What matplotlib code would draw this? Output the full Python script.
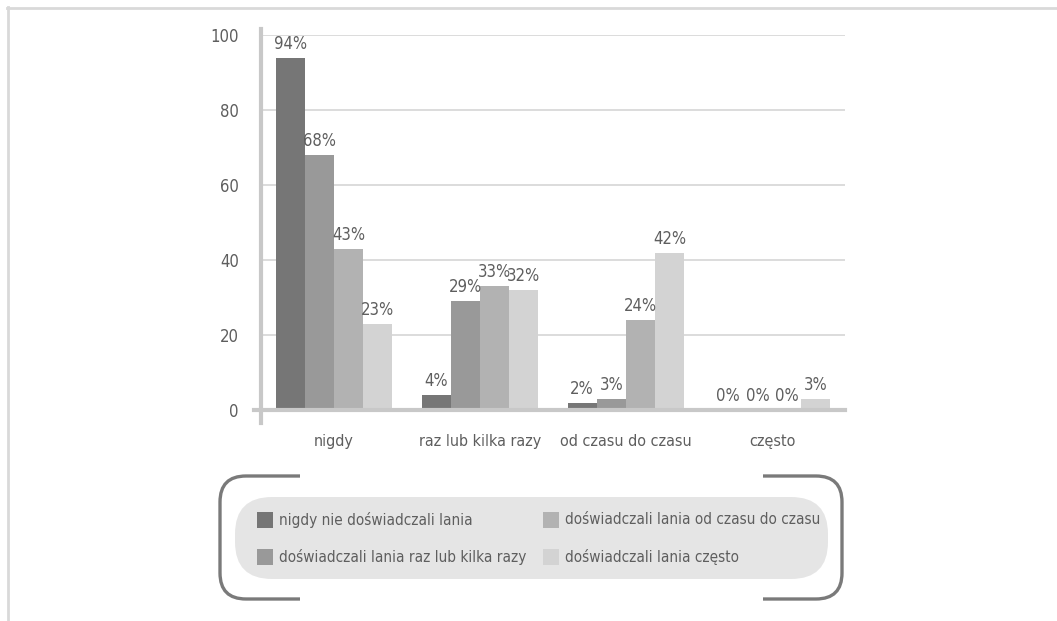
import matplotlib
matplotlib.use("Agg")
import matplotlib.pyplot as plt
from matplotlib.patches import FancyBboxPatch, Rectangle, PathPatch
from matplotlib.path import Path
from matplotlib.lines import Line2D
import numpy as np

plt.rcParams['font.family'] = ['DejaVu Sans']
plt.rcParams['font.stretch'] = 'condensed'

categories = ["nigdy", "raz lub kilka razy", "od czasu do czasu", "często"]
series_names = [
    "nigdy nie doświadczali lania",
    "doświadczali lania raz lub kilka razy",
    "doświadczali lania od czasu do czasu",
    "doświadczali lania często",
]
values = [
    [94, 4, 2, 0],
    [68, 29, 3, 0],
    [43, 33, 24, 0],
    [23, 32, 42, 3],
]
colors = ["#767676", "#999999", "#b2b2b2", "#d3d3d3"]
yticks = [0, 20, 40, 60, 80, 100]

TEXT = "#5e5e5e"
W, H = 1057, 621
fig = plt.figure(figsize=(W / 100, H / 100), dpi=100)

def fx(px):
    return px / W

def fy(py):
    return 1 - py / H

# outer frame lines (top and left)
fig.add_artist(Line2D([fx(7), 1], [fy(7.5), fy(7.5)], color="#d9d9d9", lw=2))
fig.add_artist(Line2D([fx(7.5), fx(7.5)], [fy(7), 0], color="#d9d9d9", lw=2))

ax = fig.add_axes([fx(261), fy(410), fx(845) - fx(261), fy(35) - fy(410)])
x = np.arange(len(categories))
bw = 0.2
offsets = [-0.3, -0.1, 0.1, 0.3]
for vals, col, off in zip(values, colors, offsets):
    bars = ax.bar(x + off, vals, width=bw, color=col, zorder=3)
    for b, v in zip(bars, vals):
        ax.annotate(f"{v}%", (b.get_x() + b.get_width() / 2, v),
                    xytext=(0, 3.5), textcoords="offset points",
                    ha="center", va="bottom", fontsize=12, color=TEXT, zorder=4)

ax.set_xlim(-0.5, 3.5)
ax.set_ylim(0, 100)
ax.set_yticks(yticks)
ax.set_yticklabels([str(t) for t in yticks])
ax.set_xticks(x)
ax.set_xticklabels(categories)
ax.tick_params(axis="both", length=0, labelsize=12, colors=TEXT)
ax.tick_params(axis="x", labelsize=11.5, pad=17)
ax.tick_params(axis="y", pad=16)
for s in ax.spines.values():
    s.set_visible(False)
ax.grid(axis="y", color="#d9d9d9", lw=1.3, zorder=0)
ax.set_axisbelow(True)
# axis lines
ax.add_line(Line2D([-0.55, 3.5], [0, 0], color="#c8c8c8", lw=3, zorder=5, clip_on=False))
ax.add_line(Line2D([-0.5, -0.5], [-3.5, 101.5], color="#c8c8c8", lw=3, zorder=5, clip_on=False))

# legend panel
box = FancyBboxPatch((fx(235), fy(579)), fx(828) - fx(235), fy(497) - fy(579),
                     boxstyle="round,pad=0,rounding_size=0.035",
                     transform=fig.transFigure, facecolor="#e5e5e5", edgecolor="none",
                     mutation_aspect=W / H)
fig.add_artist(box)

def bracket(xs, xe, top, bot, r):
    # xs: open end, xe: vertical side
    d = 1 if xe > xs else -1
    pts = [
        (xs, top), (xe - d * r, top), (xe, top), (xe, top + r),
        (xe, bot - r), (xe, bot), (xe - d * r, bot), (xs, bot),
    ]
    codes = [Path.MOVETO, Path.LINETO, Path.CURVE3, Path.CURVE3,
             Path.LINETO, Path.CURVE3, Path.CURVE3, Path.LINETO]
    verts = [(fx(a), fy(b)) for a, b in pts]
    fig.add_artist(PathPatch(Path(verts, codes), transform=fig.transFigure,
                             fill=False, edgecolor="#7a7a7a", lw=2.4, capstyle="butt"))

bracket(300, 220, 476, 599, 26)
bracket(763, 842, 476, 599, 26)

legend_pos = [(257, 520), (257, 557), (543, 520), (543, 557)]
for (px, py), name, col in zip(legend_pos, series_names, colors):
    fig.add_artist(Rectangle((fx(px), fy(py + 8)), fx(16), 16 / H,
                             transform=fig.transFigure, facecolor=col, edgecolor="none"))
    fig.text(fx(px + 22), fy(py), name, fontsize=11, color=TEXT, va="center", ha="left")

fig.savefig("out.png", dpi=100)
